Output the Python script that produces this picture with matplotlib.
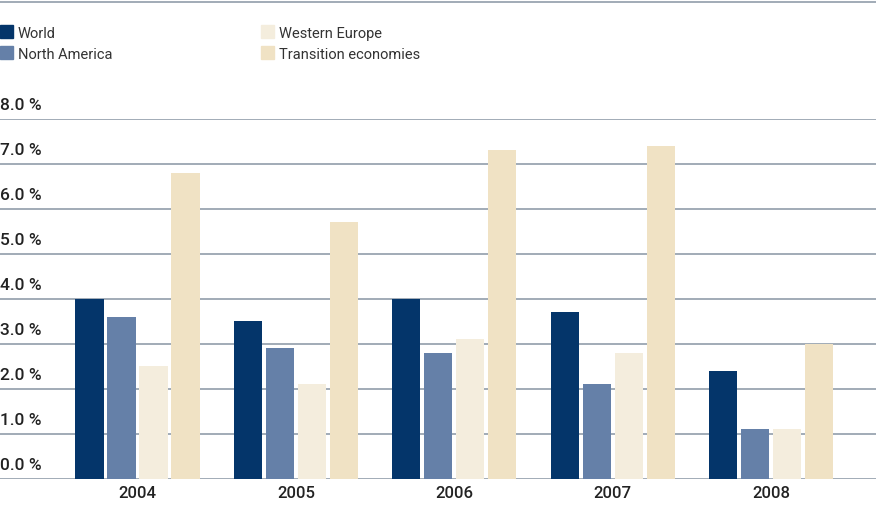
import numpy as np
import matplotlib.pyplot as plt
from matplotlib.patches import Rectangle
from matplotlib.lines import Line2D

plt.rcParams['font.family'] = ['Roboto', 'DejaVu Sans']

# data
years = ['2004', '2005', '2006', '2007', '2008']
world = [4.0, 3.5, 4.0, 3.7, 2.4]
north_america = [3.6, 2.9, 2.8, 2.1, 1.1]
western_europe = [2.5, 2.1, 3.1, 2.8, 1.1]
transition = [6.8, 5.7, 7.3, 7.4, 3.0]
series_names = ['World', 'North America', 'Western Europe', 'Transition economies']
colors = ['#04356a', '#6580a8', '#f4eddd', '#f0e2c4']
yticks = [0, 1, 2, 3, 4, 5, 6, 7, 8]

fig = plt.figure(figsize=(8.76, 5.06), dpi=100)
ax = fig.add_axes([0, 26.5/506, 1, 360/506])

x = np.arange(len(years))
width = 0.177
step = 0.202
all_series = [world, north_america, western_europe, transition]
for i, vals in enumerate(all_series):
    ax.bar(x + (i - 1.5)*step, vals, width, color=colors[i], zorder=3)

ax.set_xlim(-0.868, 4.662)
ax.set_ylim(0, 8)
for v in yticks:
    ax.axhline(v, color='#9aa5b1', lw=1.3, zorder=1)
    ax.text(0.0, v + 0.15, '%.1f %%' % v, transform=ax.get_yaxis_transform(),
            ha='left', va='bottom', fontsize=12.5, fontweight='medium', color='#222222')

ax.set_xticks(x)
ax.set_xticklabels(years, fontsize=12, fontweight='medium', color='#222222')
ax.tick_params(axis='x', length=0, pad=5)
ax.set_yticks([])
for s in ax.spines.values():
    s.set_visible(False)
ax.patch.set_alpha(0)

# top rule
fig.add_artist(Line2D([0, 1], [1 - 3/506, 1 - 3/506], color='#9aa5b1', lw=1.3))

# legend
leg_pos = [(0, 26), (0, 47), (261, 26), (261, 47)]
for (px, py), name, c in zip(leg_pos, series_names, colors):
    fig.add_artist(Rectangle((px/876, 1 - (py+13)/506), 13/876, 13/506,
                             color=c, transform=fig.transFigure))
    fig.text((px+18)/876, 1 - (py+8)/506, name, fontsize=10.5,
             va='center', ha='left', color='#333333')

plt.savefig('out.png', dpi=100)
